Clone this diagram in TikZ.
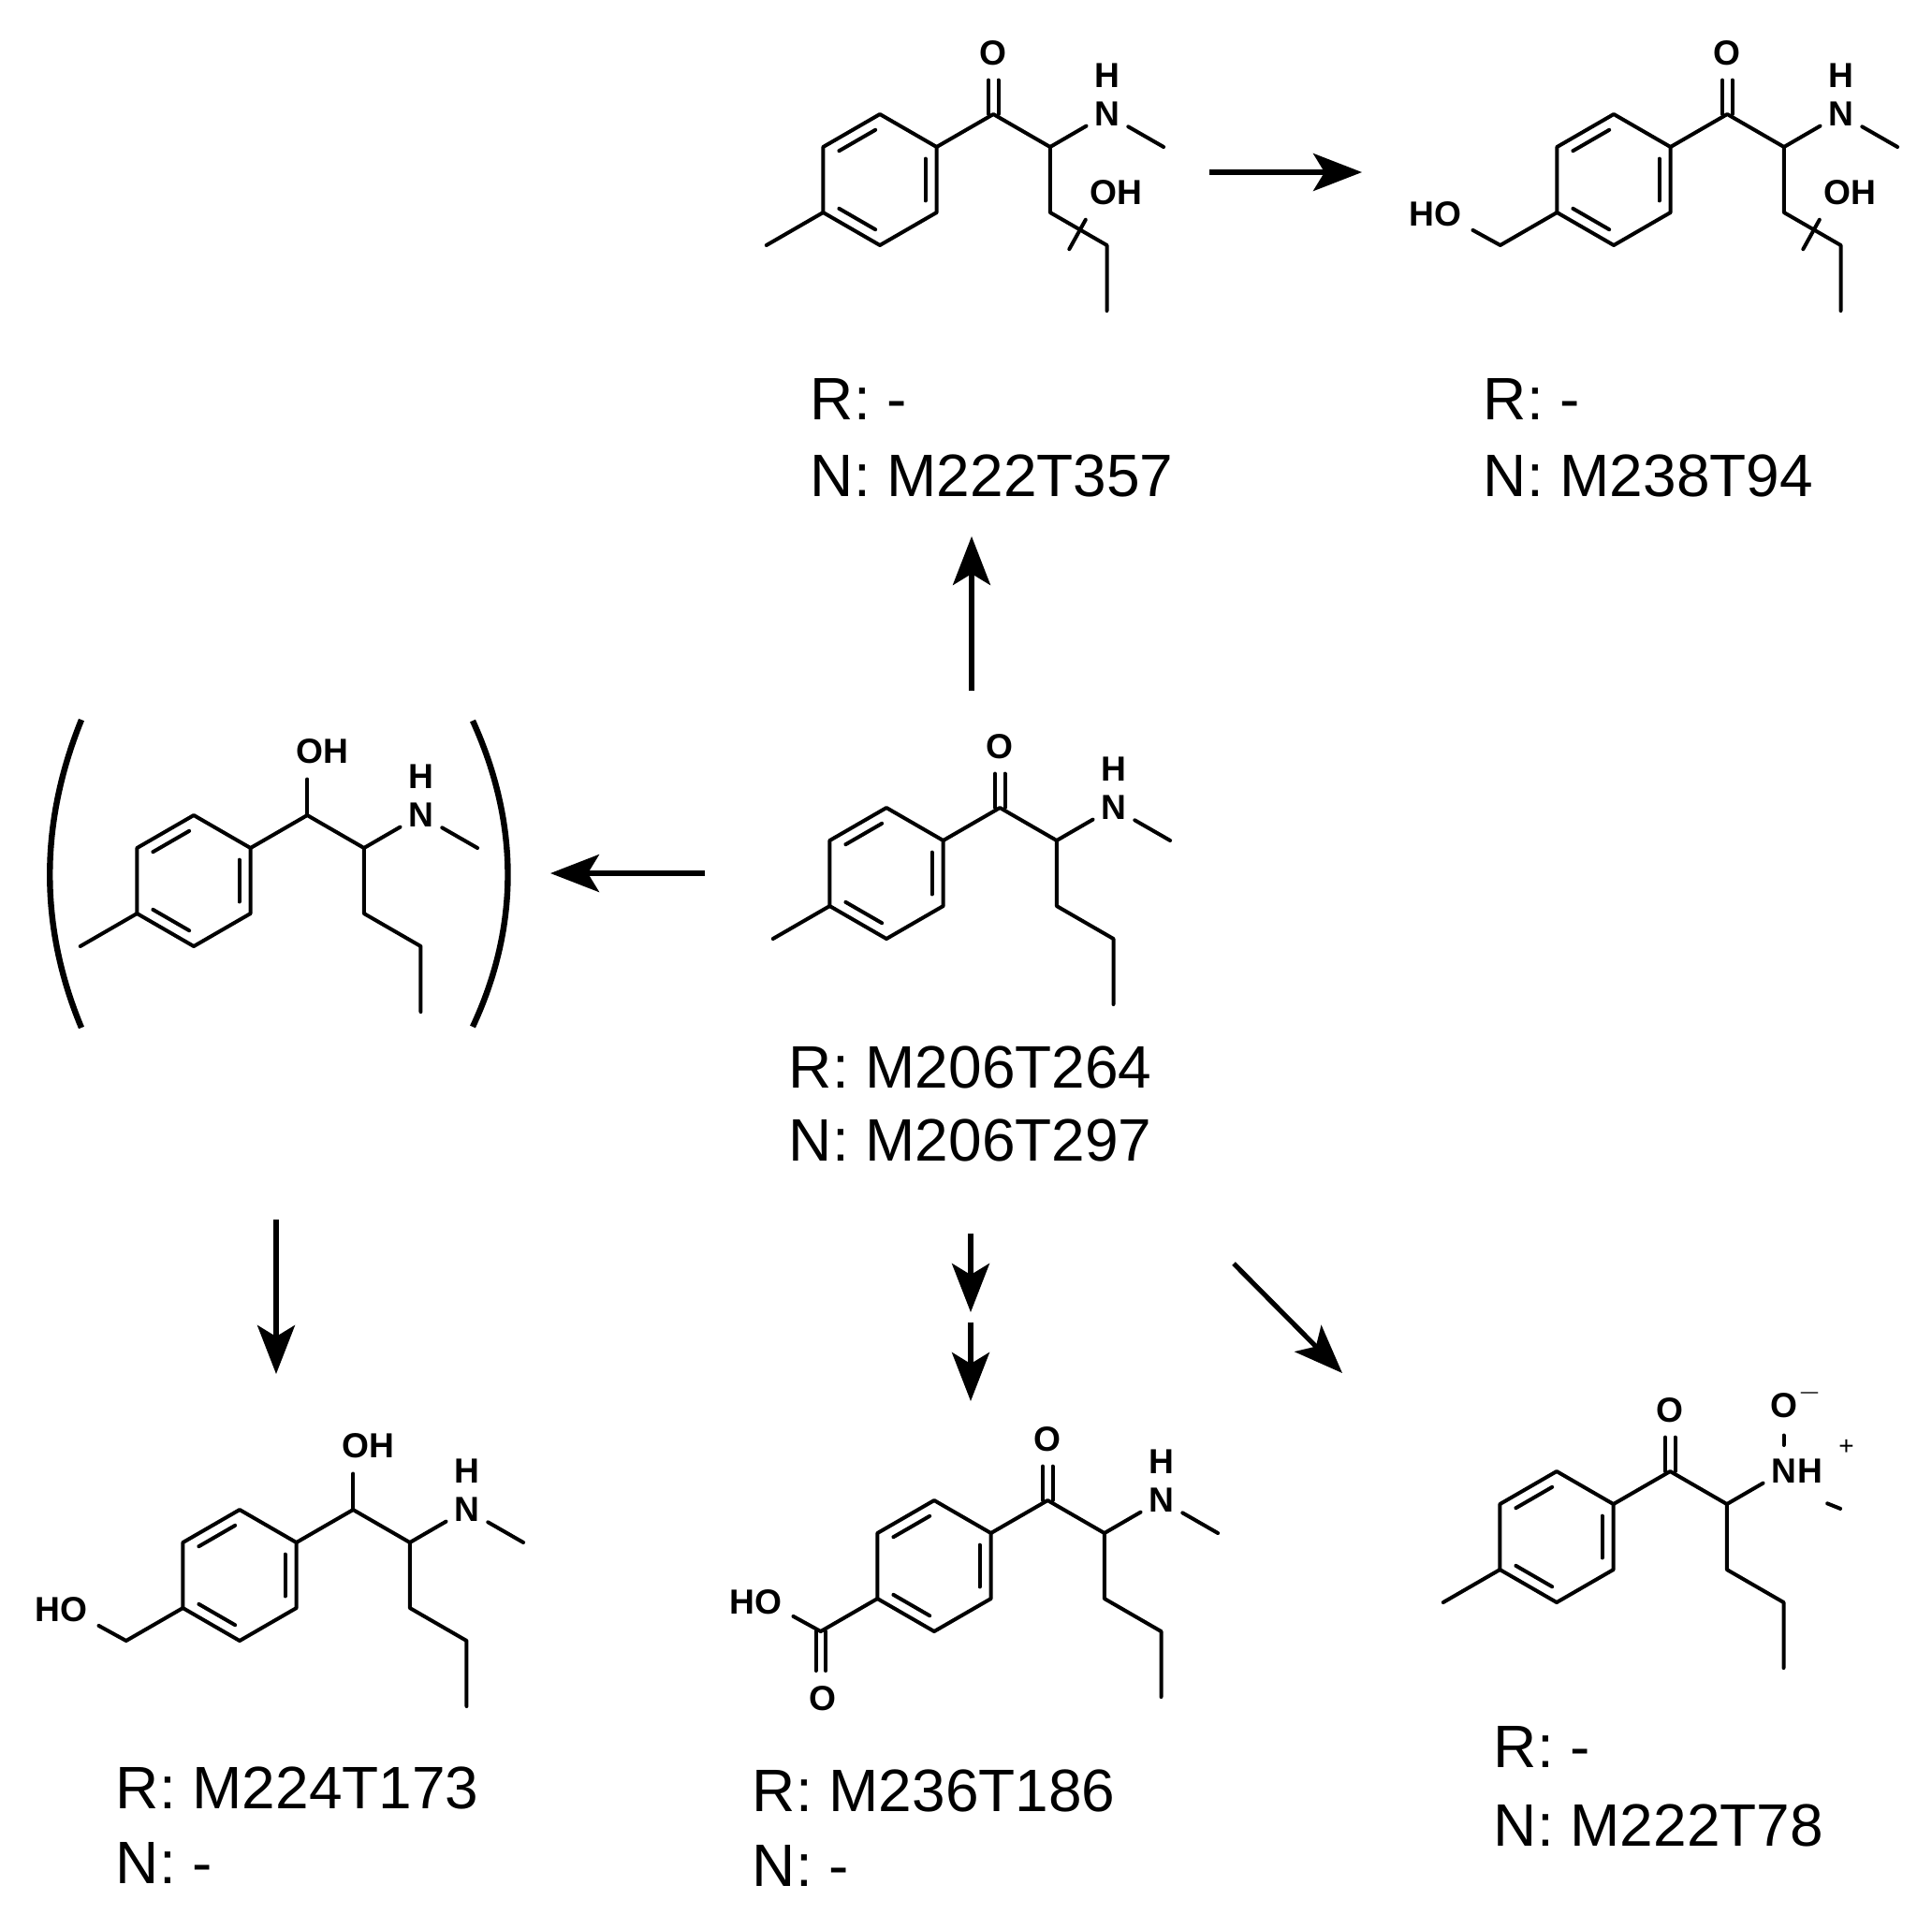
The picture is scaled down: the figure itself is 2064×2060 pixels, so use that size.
\documentclass[tikz,border=0pt]{standalone}
\usepackage{fontspec}
\setmainfont{Liberation Sans}
\usetikzlibrary{arrows.meta}
\tikzset{
  bond/.style={line width=1pt, line cap=round, line join=round},
  atom/.style={inner sep=0pt, font=\fontsize{9.3}{11}\selectfont\bfseries},
  lbl/.style={inner sep=0pt, anchor=base west, font=\fontsize{16}{19}\selectfont},
  rxn/.style={line width=1.3pt, -{Stealth[length=13pt,width=10pt,inset=3pt]}},
  brk/.style={line width=1.6pt}
}
\newcommand{\mring}{%
  \draw[bond] (0,1)--(0.866,0.5)--(0.866,-0.5)--(0,-1)--(-0.866,-0.5)--(-0.866,0.5)--cycle;
  \draw[bond] (0.693,0.32)--(0.693,-0.32);
  \draw[bond] (-0.623,0.44)--(-0.069,0.76);
  \draw[bond] (-0.623,-0.44)--(-0.069,-0.76);}
\newcommand{\mmethyl}{\draw[bond] (-0.866,-0.5)--(-1.732,-1);}
\newcommand{\mhoch}[1]{\draw[bond] (-0.866,-0.5)--(-1.732,-1)--(-2.15,-0.77);
  \node[atom] (#1-HO) at (-2.72,-0.53) {HO};}
\newcommand{\mcooh}[1]{\draw[bond] (-0.866,-0.5)--(-1.732,-1)--(-2.15,-0.77);
  \draw[bond] (-1.657,-1)--(-1.657,-1.6); \draw[bond] (-1.807,-1)--(-1.807,-1.6);
  \node[atom] (#1-HO) at (-2.72,-0.55) {HO};
  \node[atom] (#1-O2) at (-1.70,-2.02) {O};}
\newcommand{\mketone}[1]{\draw[bond] (1.657,1)--(1.657,1.52); \draw[bond] (1.807,1)--(1.807,1.52);
  \node[atom] (#1-O) at (1.732,1.93) {O};}
\newcommand{\malcohol}[1]{\draw[bond] (1.732,1)--(1.732,1.55);
  \node[atom] (#1-OH) at (1.96,1.97) {OH};}
\newcommand{\mcore}{\draw[bond] (0.866,0.5)--(1.732,1)--(2.598,0.5)--(3.15,0.82);
  \draw[bond] (2.598,0.5)--(2.598,-0.5)--(3.464,-1)--(3.464,-2);}
\newcommand{\mamine}[1]{\node[atom] (#1-N) at (3.464,1) {N};
  \node[atom] (#1-H) at (3.464,1.59) {H};
  \draw[bond] (3.79,0.81)--(4.33,0.5);}
\newcommand{\mcut}[1]{\draw[bond] (2.89,-1.06)--(3.14,-0.61);
  \node[atom] (#1-OHc) at (3.6,-0.19) {OH};}
\begin{document}
\begin{tikzpicture}[x=0.25pt,y=-0.25pt]
\useasboundingbox (0,0) rectangle (2064,2060);
% A central
\begin{scope}[shift={(947,933)},x=17.5pt,y=17.5pt]
  \mring\mmethyl\mcore\mketone{A}\mamine{A}
\end{scope}
\node[lbl] (A-R) at (842,1162) {R: M206T264};
\node[lbl] (A-Nl) at (842,1240) {N: M206T297};
% B top middle
\begin{scope}[shift={(940,192)},x=17.5pt,y=17.5pt]
  \mring\mmethyl\mcore\mketone{B}\mamine{B}\mcut{B}
\end{scope}
\node[lbl] (B-R) at (865,448) {R: -};
\node[lbl] (B-Nl) at (865,530) {N: M222T357};
% C top right
\begin{scope}[shift={(1724,192)},x=17.5pt,y=17.5pt]
  \mring\mhoch{C}\mcore\mketone{C}\mamine{C}\mcut{C}
\end{scope}
\node[lbl] (C-R) at (1584,448) {R: -};
\node[lbl] (C-Nl) at (1584,530) {N: M238T94};
% D bracketed
\begin{scope}[shift={(207,941)},x=17.5pt,y=17.5pt]
  \mring\mmethyl\mcore\malcohol{D}\mamine{D}
\end{scope}
\draw[brk] (87,769) .. controls (42,880) and (42,990) .. (87,1098);
\draw[brk] (505,770) .. controls (555,880) and (555,990) .. (505,1097);
% E bottom left
\begin{scope}[shift={(256,1683)},x=17.5pt,y=17.5pt]
  \mring\mhoch{E}\mcore\malcohol{E}\mamine{E}
\end{scope}
\node[lbl] (E-R) at (123,1932) {R: M224T173};
\node[lbl] (E-Nl) at (123,2012) {N: -};
% F bottom middle
\begin{scope}[shift={(998,1673)},x=17.5pt,y=17.5pt]
  \mring\mcooh{F}\mcore\mketone{F}\mamine{F}
\end{scope}
\node[lbl] (F-R) at (803,1935) {R: M236T186};
\node[lbl] (F-Nl) at (803,2015) {N: -};
% G bottom right (N-oxide)
\begin{scope}[shift={(1663,1642)},x=17.5pt,y=17.5pt]
  \mring\mmethyl\mcore\mketone{G}
  \node[atom] (G-N) at (3.464,1) {N};
  \node[atom,anchor=west] (G-H) at (G-N.east) {H};
  \node[inner sep=0pt,font=\fontsize{7}{8}\selectfont] (G-plus) at (4.42,1.37) {+};
  \node[atom] (G-O) at (3.464,2.0) {O};
  \node[inner sep=0pt,font=\fontsize{7}{8}\selectfont] (G-minus) at (3.86,2.2) {$-$};
  \draw[bond] (3.464,1.4)--(3.464,1.55);
  \draw[bond] (4.13,0.51)--(4.33,0.43);
\end{scope}
\node[lbl] (G-R) at (1595,1888) {R: -};
\node[lbl] (G-Nl) at (1595,1972) {N: M222T78};
% reaction arrows
\coordinate (a1s) at (1038,738); \coordinate (a1e) at (1038,573);
\coordinate (a2s) at (1292,184); \coordinate (a2e) at (1455,184);
\coordinate (a3s) at (753,933);  \coordinate (a3e) at (588,933);
\coordinate (a4s) at (295,1303); \coordinate (a4e) at (295,1468);
\coordinate (a5s) at (1037,1318); \coordinate (a5e) at (1037,1402);
\coordinate (a6s) at (1037,1413); \coordinate (a6e) at (1037,1497);
\coordinate (a7s) at (1318,1350); \coordinate (a7e) at (1434,1467);
\foreach \i in {1,...,7} {\draw[rxn] (a\i s) -- (a\i e);}
\end{tikzpicture}
\end{document}
